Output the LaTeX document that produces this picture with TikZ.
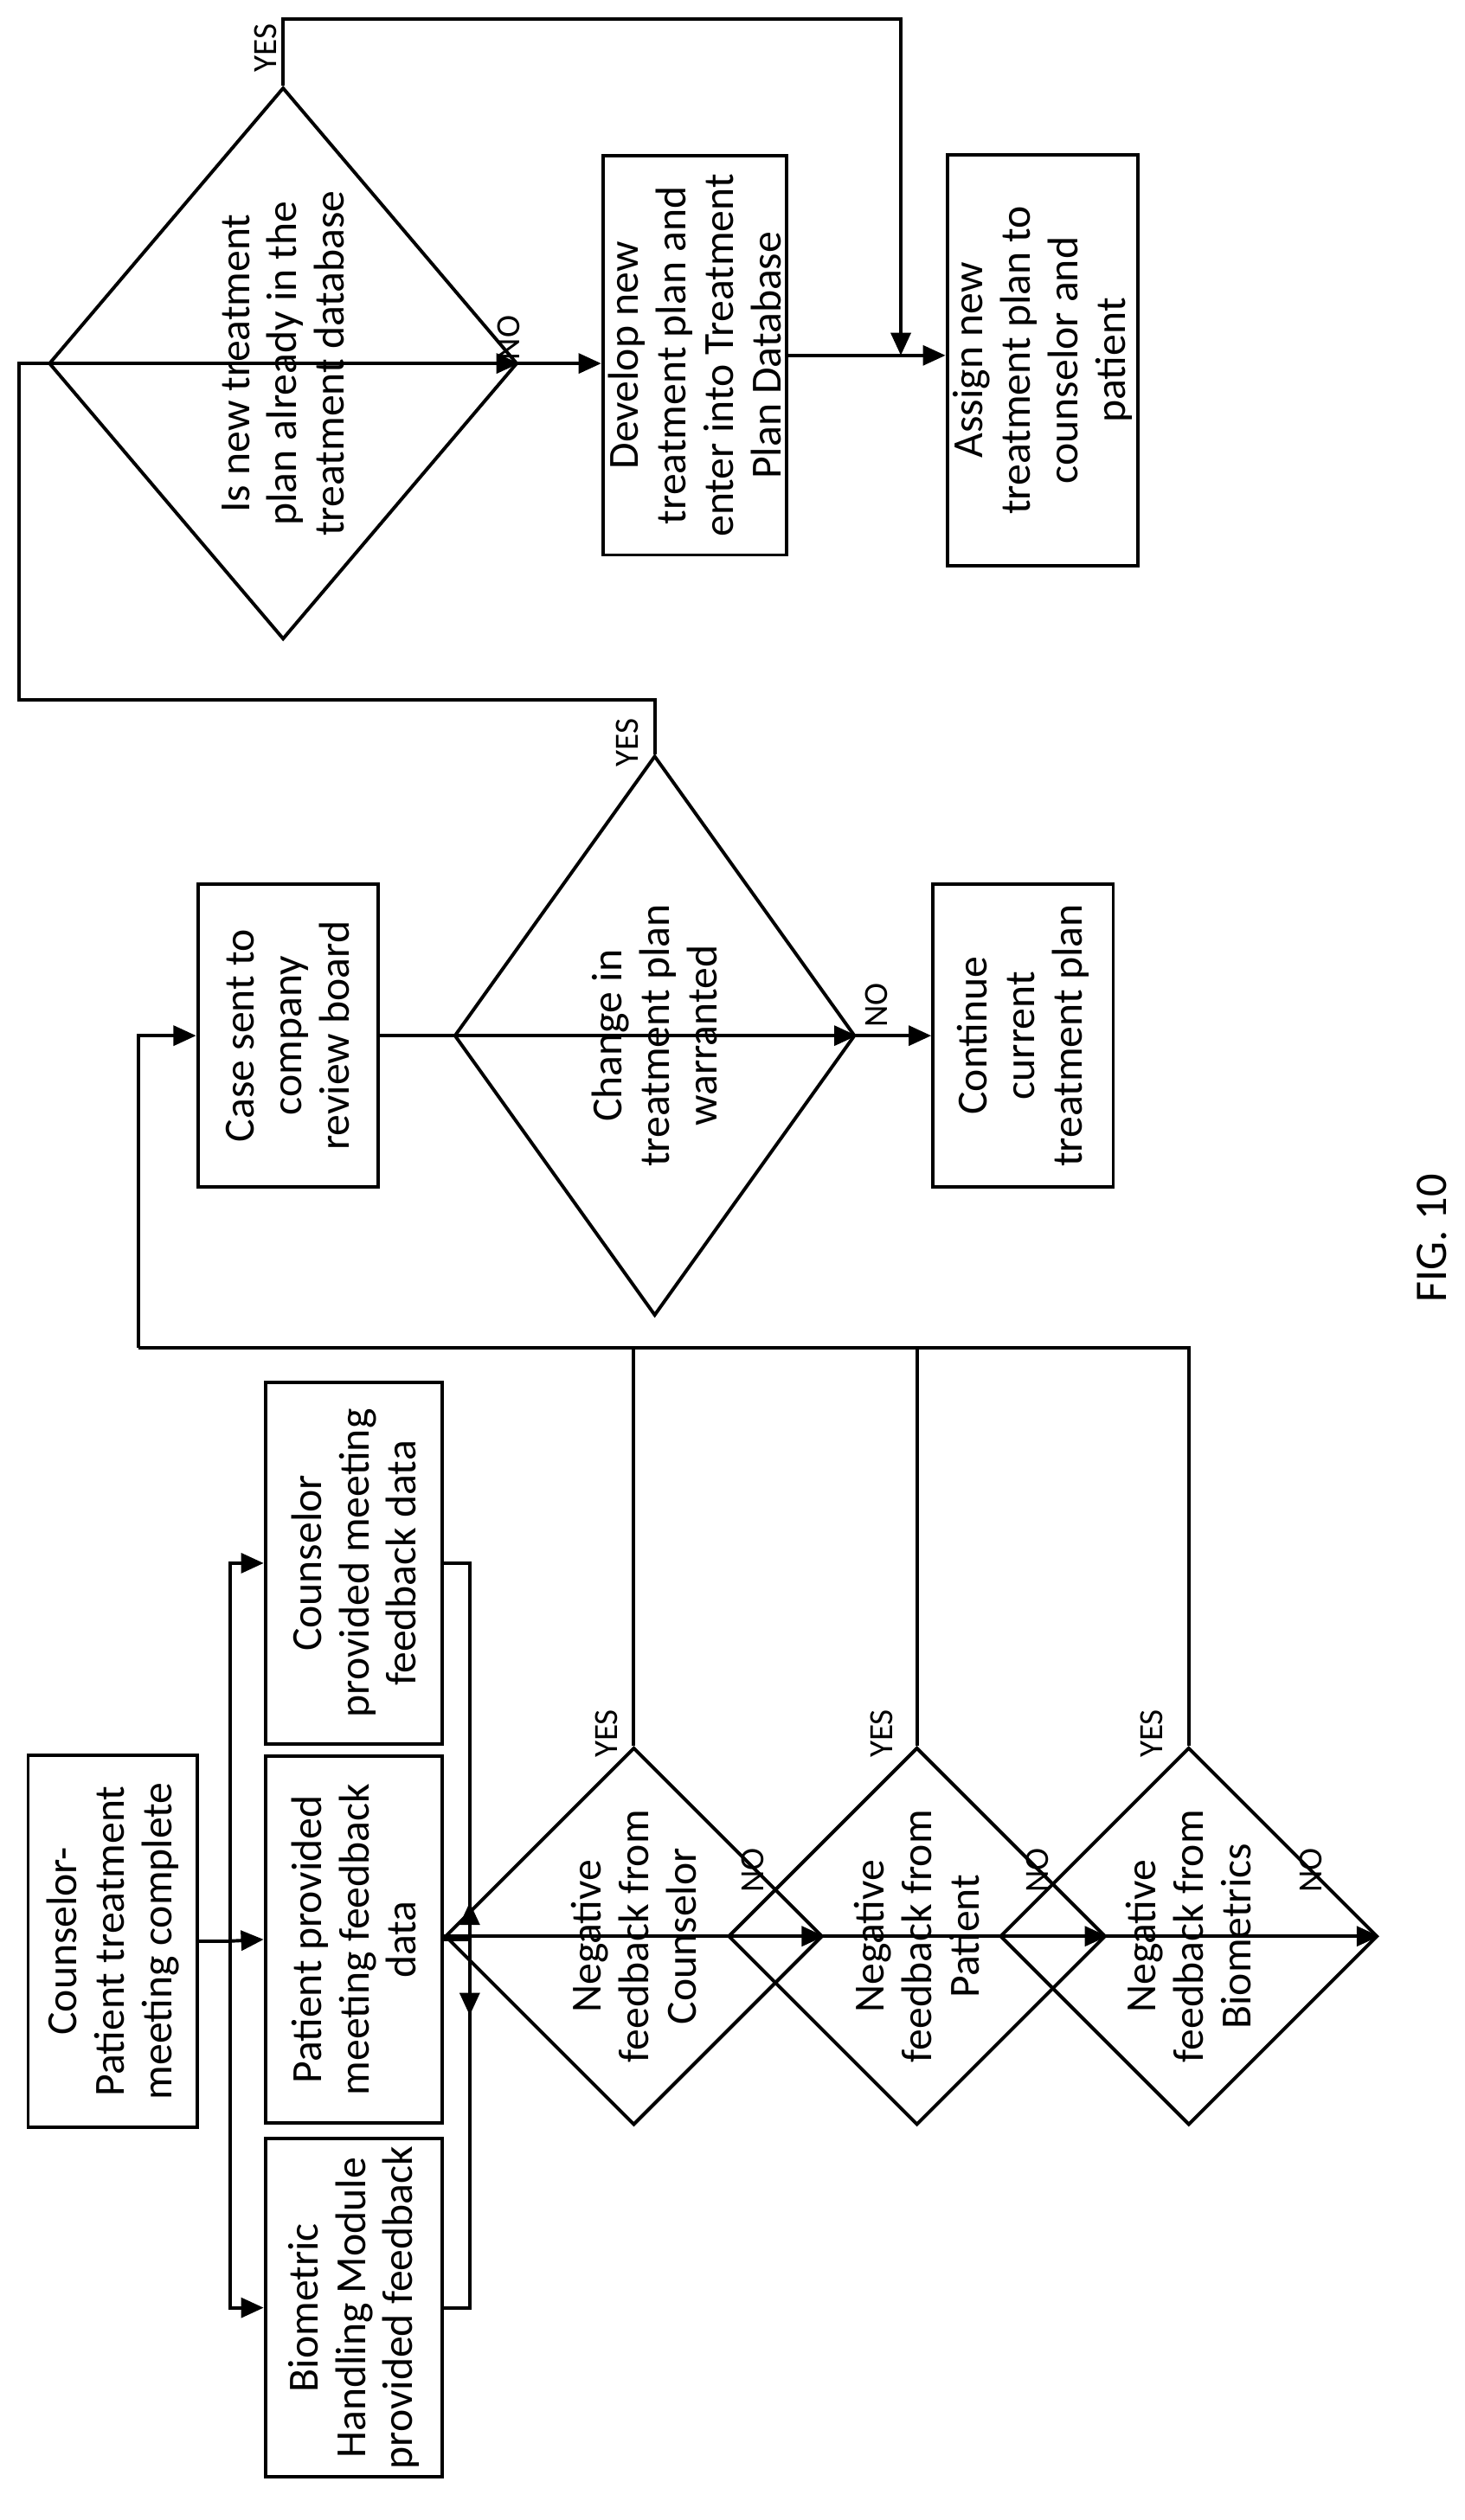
\documentclass[tikz,border=0pt]{standalone}
\usepackage{fontspec}
\setmainfont{Carlito}
\usetikzlibrary{shapes.geometric,arrows.meta}
\begin{document}
\begin{tikzpicture}[
        x=0.01cm, y=-0.01cm,
        line width=0.6pt,
        >={Triangle[length=4pt,width=3.5pt]},
        % boxes and diamonds read from bottom to top
        box/.style={
            draw, rotate=90, align=center, inner sep=1pt,
            font=\fontsize{7.6}{8.4}\selectfont
        },
        dia/.style={
            draw, diamond, rotate=90, align=center, inner sep=0pt,
            font=\fontsize{7.6}{8.4}\selectfont
        },
        lbl/.style={
            rotate=90, font=\fontsize{6}{7}\selectfont
        }
    ]
    \useasboundingbox (0,0) rectangle (910.5,1567);

    % --- left part: meeting feedback ---
    \node[box, minimum width=2.31cm, minimum height=1.05cm] (start) at (70,1207) {Counselor-\\Patient treatment\\meeting complete};
    \node[box, minimum width=2.1cm, minimum height=1.1cm] (bio) at (220,1435) {Biometric\\Handling Module\\provided feedback};
    \node[box, minimum width=2.28cm, minimum height=1.1cm] (pat) at (220,1206) {Patient provided\\meeting feedback\\data};
    \node[box, minimum width=2.25cm, minimum height=1.1cm] (cou) at (220,972) {Counselor\\provided meeting\\feedback data};

    \coordinate (split) at (143,1207);
    \draw (start.south) -- (split);
    \draw[->] (split) -- (pat.north);
    \draw[->] (split) |- (cou.north);
    \draw[->] (split) |- (bio.north);

    \coordinate (join) at (292,1204);
    \draw[->] (cou.south) -| ([yshift=-14]join);
    \draw[->] (bio.south) -| ([yshift=6]join);
    \draw (pat.south) -- (join |- pat.south);

    \node[dia, minimum width=2.28cm, minimum height=1.48cm] (dc) at (394,1204) {Negative\\feedback from\\Counselor};
    \node[dia, minimum width=2.28cm, minimum height=1.4cm] (dp) at (570,1204) {Negative\\feedback from\\Patient};
    \node[dia, minimum width=2.28cm, minimum height=1.42cm] (db) at (739,1204) {Negative\\feedback from\\Biometrics};

    \draw[->] (join) -- (dc.south);
    \draw[->] (dc.north) -- (dp.south);
    \draw[->] (dp.north) -- (db.south);

    \node[lbl] at (468,1163) {NO};
    \node[lbl] at (645,1163) {NO};
    \node[lbl] at (815,1163) {NO};
    \node[lbl] at (377,1078) {YES};
    \node[lbl] at (548,1078) {YES};
    \node[lbl] at (716,1078) {YES};

    % --- middle part: review board ---
    \node[box, minimum width=1.88cm, minimum height=1.12cm] (case) at (179,644) {Case sent to\\company\\review board};
    \node[dia, minimum width=3.48cm, minimum height=2.49cm] (chg) at (407,644) {Change in\\treatment plan\\warranted};
    \node[box, minimum width=1.88cm, minimum height=1.12cm] (cont) at (636,644) {Continue\\current\\treatment plan};

    \coordinate (bus) at (86,838);
    \draw (dc.east) -- (dc.east |- bus);
    \draw (dp.east) -- (dp.east |- bus);
    \draw (db.east) -- (db.east |- bus) -- (bus);
    \draw[->] (bus) |- (case.north);
    \draw[->] (case.south) -- (chg.south);
    \draw[->] (chg.north) -- (cont.north);
    \node[lbl] at (545,625) {NO};
    \node[lbl] at (390,462) {YES};

    % --- right part: new treatment plan ---
    \node[dia, minimum width=3.43cm, minimum height=2.48cm] (isnew) at (176,226) {Is new treatment\\plan already in the\\treatment database};
    \node[box, minimum width=2.48cm, minimum height=1.1cm] (dev) at (432,221) {Develop new\\treatment plan and\\enter into Treatment\\Plan Database};
    \node[box, minimum width=2.55cm, minimum height=1.13cm] (asg) at (648,224) {Assign new\\treatment plan to\\counselor and\\patient};

    \coordinate (up) at (12,435);
    \draw[->] (chg.east) |- (up) |- (isnew.south);
    \draw[->] (isnew.north) -- (dev.north |- isnew.north);
    \draw[->] (dev.south) -- (asg.north |- dev.south);
    \coordinate (top) at (560,12);
    \draw[->] (isnew.east) |- (top) -- (560,221);
    \node[lbl] at (316,210) {NO};
    \node[lbl] at (165,30) {YES};

    \node[rotate=90, font=\fontsize{8}{9}\selectfont] (fig) at (890,770) {FIG. 10};
\end{tikzpicture}
\end{document}
